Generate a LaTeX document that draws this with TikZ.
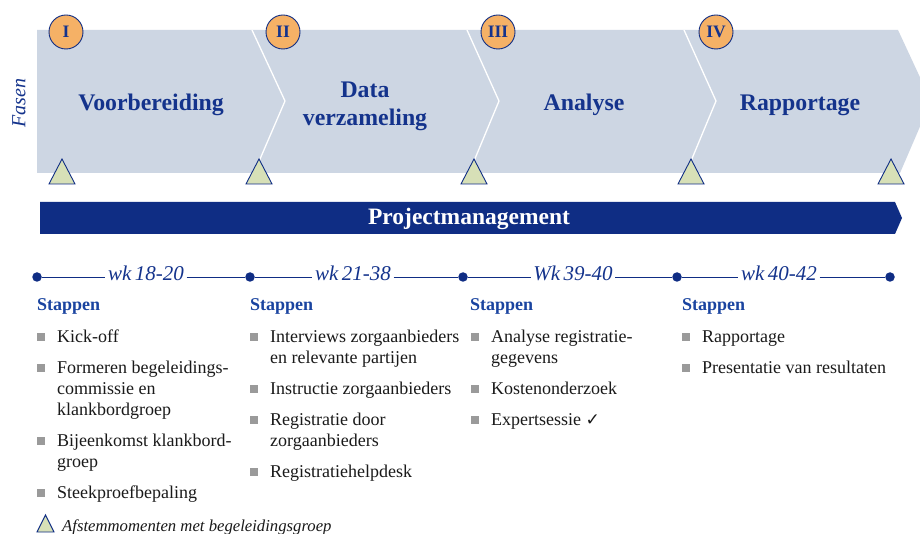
\documentclass[tikz,border=0pt]{standalone}
\usepackage{fontspec}
\setmainfont{Liberation Serif}
\newfontfamily\symfnt{DejaVu Sans}
\definecolor{bandc}{HTML}{CDD6E3}
\definecolor{navyc}{HTML}{0F2D84}
\definecolor{navytxt}{HTML}{14338C}
\definecolor{stapc}{HTML}{1A44A0}
\definecolor{orangec}{HTML}{F5B166}
\definecolor{greenc}{HTML}{D7E0B7}
\definecolor{bulc}{HTML}{9A9A9A}
\definecolor{txtc}{HTML}{1A1A1A}
\newcommand{\bdfont}{\fontsize{18}{21}\selectfont}
\begin{document}
\begin{tikzpicture}[x=1pt,y=-1pt,
  phase/.style={text=navytxt, font=\fontsize{23.8}{28}\selectfont\bfseries, align=center, inner sep=0pt},
  numc/.style={circle, draw=navyc, line width=0.9pt, fill=orangec, minimum size=34pt, inner sep=0pt, font=\fontsize{17.5}{17.5}\selectfont\bfseries, text=navytxt},
  tri/.style={draw=navyc, line width=0.9pt, fill=greenc, line join=miter},
  sep/.style={draw=white, line width=1.3pt},
  dot/.style={circle, fill=navyc, minimum size=9.5pt, inner sep=0pt},
  wk/.style={text=navytxt, font=\fontsize{21}{21}\selectfont\itshape, text height=0.7em, text depth=0pt, inner xsep=2.5pt, inner ysep=0pt},
  tl/.style={draw=navyc, line width=0.8pt},
  stap/.style={anchor=base west, inner sep=0pt, text=stapc, font=\fontsize{18}{21}\selectfont\bfseries},
  item/.style={anchor=base west, inner sep=0pt, text=txtc, font=\bdfont},
  bul/.style={fill=bulc, minimum size=8pt, inner sep=0pt, anchor=south west}
]
\clip (0,0) rectangle (920,534);
\fill[white] (0,0) rectangle (920,534);

% phase band
\fill[bandc] (37,30) -- (898,30) -- (931,101) -- (900,173) -- (37,173) -- cycle;
\draw[sep] (252,30) -- (285,101) -- (254,173);
\draw[sep] (467,30) -- (499,101) -- (469,173);
\draw[sep] (684,30) -- (716,101) -- (686,173);

\node[phase] (p1) at (151,105) {Voorbereiding};
\node[phase] (p2) at (365,106) {Data\\verzameling};
\node[phase] (p3) at (584,105) {Analyse};
\node[phase] (p4) at (800,105) {Rapportage};

\node[text=navytxt, rotate=90, font=\fontsize{20}{20}\selectfont\itshape] (fasen) at (19,103) {Fasen};

\node[numc] (n1) at (66,32) {I};
\node[numc] (n2) at (283,32) {II};
\node[numc] (n3) at (498,32) {III};
\node[numc] (n4) at (716,32) {IV};

\foreach \x in {62,259,474,691,891}{
  \draw[tri] (\x-13,184) -- (\x,159) -- (\x+13,184) -- cycle;
}

% project management bar
\fill[navyc] (40,202) -- (895,202) -- (902,218) -- (895,234) -- (40,234) -- cycle;
\node[text=white, font=\fontsize{23.5}{23.5}\selectfont\bfseries] (pm) at (469,219) {Projectmanagement};

% timeline
\node[dot] (d1) at (37,277) {};
\node[dot] (d2) at (250,277) {};
\node[dot] (d3) at (463,277) {};
\node[dot] (d4) at (677,277) {};
\node[dot] (d5) at (890,277) {};
\node[wk] (w1) at (146,277) {wk\,18-20};
\node[wk] (w2) at (353,277) {wk\,21-38};
\node[wk] (w3) at (573,277) {Wk\,39-40};
\node[wk] (w4) at (779,277) {wk\,40-42};
\draw[tl] (d1) -- (w1.west);
\draw[tl] (w1.east) -- (d2);
\draw[tl] (d2) -- (w2.west);
\draw[tl] (w2.east) -- (d3);
\draw[tl] (d3) -- (w3.west);
\draw[tl] (w3.east) -- (d4);
\draw[tl] (d4) -- (w4.west);
\draw[tl] (w4.east) -- (d5);

% steps
\node[stap] (s1) at (37,310) {Stappen};
\node[stap] (s2) at (250,310) {Stappen};
\node[stap] (s3) at (470,310) {Stappen};
\node[stap] (s4) at (682,310) {Stappen};

% column 1
\node[bul] (b1a) at (37,341) {};
\node[item] (t1a) at (57,342) {Kick-off};
\node[bul] (b1b) at (37,372) {};
\node[item] (t1b) at (57,373) {Formeren begeleidings-};
\node[item] (t1c) at (57,394) {commissie en};
\node[item] (t1d) at (57,415) {klankbordgroep};
\node[bul] (b1e) at (37,445) {};
\node[item] (t1e) at (57,446) {Bijeenkomst klankbord-};
\node[item] (t1f) at (57,467) {groep};
\node[bul] (b1g) at (37,497) {};
\node[item] (t1g) at (57,498) {Steekproefbepaling};

% column 2
\node[bul] (b2a) at (250,341) {};
\node[item] (t2a) at (270,342) {Interviews zorgaanbieders};
\node[item] (t2b) at (270,363) {en relevante partijen};
\node[bul] (b2c) at (250,393) {};
\node[item] (t2c) at (270,394) {Instructie zorgaanbieders};
\node[bul] (b2d) at (250,424) {};
\node[item] (t2d) at (270,425) {Registratie door};
\node[item] (t2e) at (270,446) {zorgaanbieders};
\node[bul] (b2f) at (250,476) {};
\node[item] (t2f) at (270,477) {Registratiehelpdesk};

% column 3
\node[bul] (b3a) at (471,341) {};
\node[item] (t3a) at (491,342) {Analyse registratie-};
\node[item] (t3b) at (491,363) {gegevens};
\node[bul] (b3c) at (471,393) {};
\node[item] (t3c) at (491,394) {Kostenonderzoek};
\node[bul] (b3d) at (471,424) {};
\node[item] (t3d) at (491,425) {Expertsessie {\symfnt\fontsize{17}{17}\selectfont ✓}};

% column 4
\node[bul] (b4a) at (682,341) {};
\node[item] (t4a) at (702,342) {Rapportage};
\node[bul] (b4b) at (682,372) {};
\node[item] (t4b) at (702,373) {Presentatie van resultaten};

% legend
\draw[tri] (37,532) -- (45.5,515) -- (54,532) -- cycle;
\node[anchor=base west, inner sep=0pt, text=txtc, font=\fontsize{16.7}{17}\selectfont\itshape] (leg) at (62,531) {Afstemmomenten met begeleidingsgroep};
\end{tikzpicture}
\end{document}
